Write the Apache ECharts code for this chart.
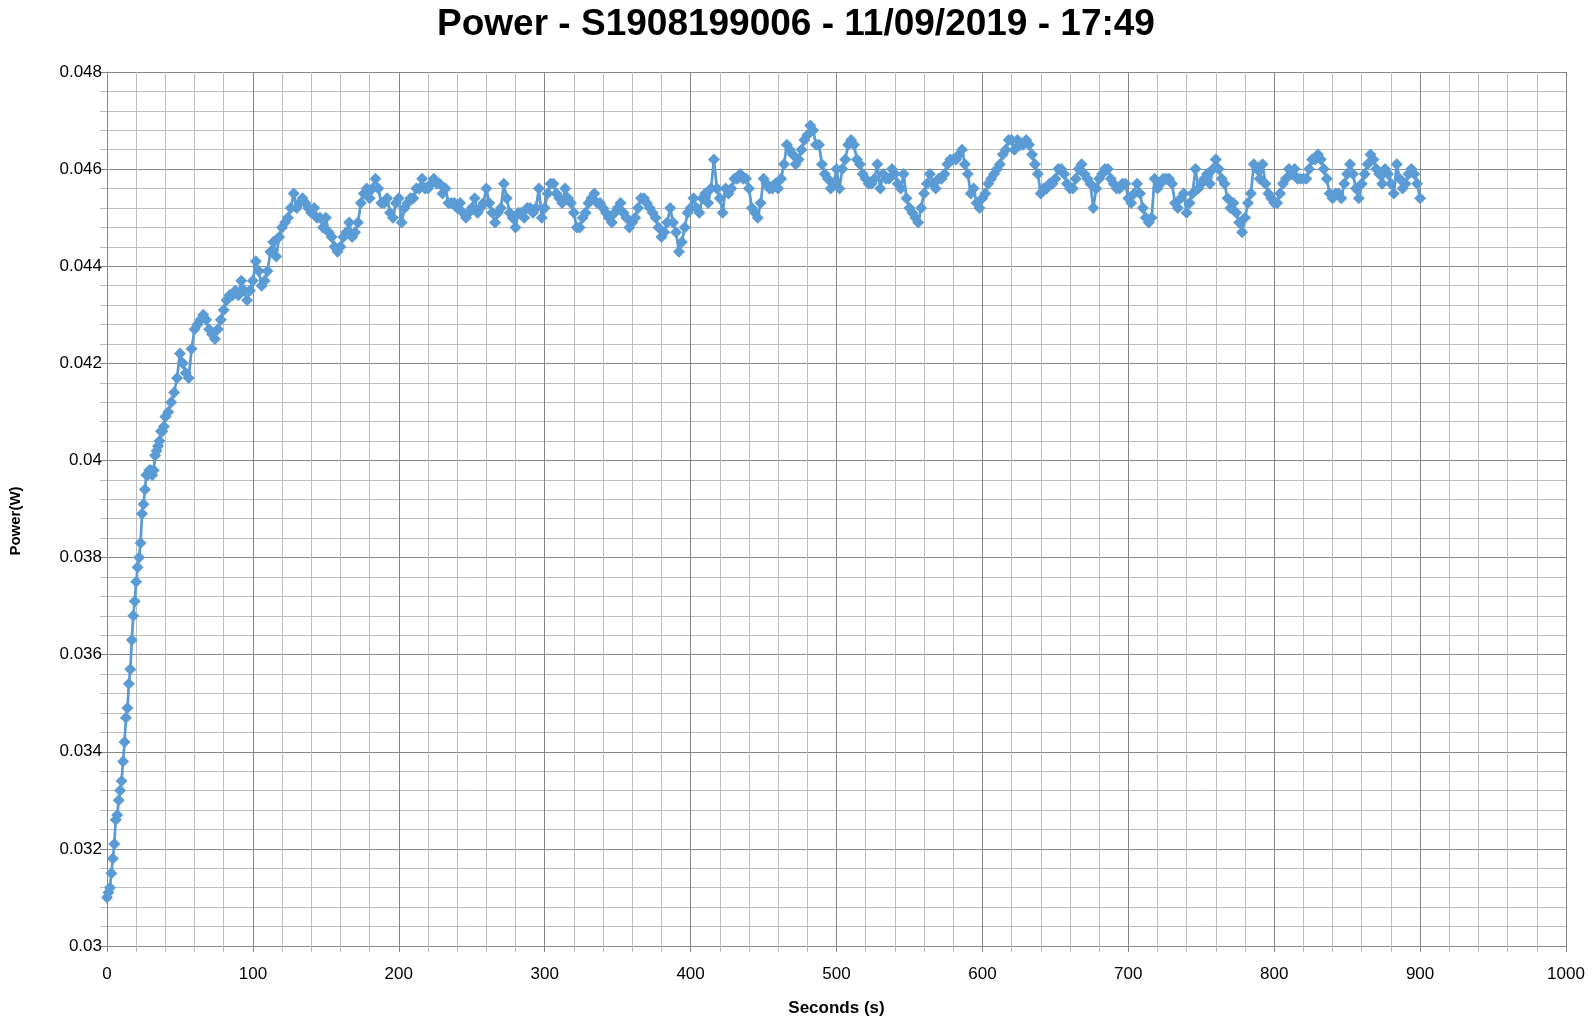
<!DOCTYPE html>
<html>
<head>
<meta charset="utf-8">
<script src="https://cdn.jsdelivr.net/npm/echarts@6/dist/echarts.min.js"></script>
<style>
html,body{margin:0;padding:0;background:#fff;}
#chart{width:1592px;height:1023px;}
</style>
</head>
<body>
<div id="chart"></div>
<script>
// ---- DATA ----
const titleText = 'Power - S1908199006 - 11/09/2019 - 17:49';
const xAxisName = 'Seconds (s)';
const yAxisName = 'Power(W)';
const xTickLabels = ['0','100','200','300','400','500','600','700','800','900','1000'];
const yTickLabels = ['0.03','0.032','0.034','0.036','0.038','0.04','0.042','0.044','0.046','0.048'];

// samples every 1 s from 0 s to 40 s
const earlyStart = 0, earlyStep = 1;
const powerEarly = [
0.0310,0.0311,0.0312,0.0315,0.0318,0.0321,0.0326,0.0327,0.0330,0.0332,
0.0334,0.0338,0.0342,0.0347,0.0349,0.0354,0.0357,0.0363,0.0368,0.0371,
0.0375,0.0378,0.0380,0.0383,0.0389,0.0391,0.0394,0.0397,0.0397,0.0398,
0.0398,0.0397,0.0398,0.0401,0.0402,0.0403,0.0404,0.0406,0.0406,0.0407,
0.0409
];

// samples every 2 s from 42 s to 900 s
const lateStart = 42, lateStep = 2;
const powerLate = [
0.0410,0.0412,0.0414,0.0417,0.0422,0.0420,0.0418,0.0417,0.0423,0.0427,
0.0428,0.0429,0.0430,0.0429,0.0427,0.0426,0.0425,0.0427,0.0429,0.0431,
0.0433,0.0434,0.0434,0.0435,0.0434,0.0437,0.0435,0.0433,0.0435,0.0437,
0.0441,0.0439,0.0436,0.0437,0.0439,0.0443,0.0445,0.0442,0.0446,0.0448,
0.0449,0.0450,0.0452,0.0455,0.0452,0.0453,0.0454,0.0453,0.0452,0.0451,
0.0452,0.0450,0.0450,0.0448,0.0450,0.0447,0.0446,0.0444,0.0443,0.0444,
0.0446,0.0447,0.0449,0.0446,0.0447,0.0449,0.0453,0.0455,0.0456,0.0454,
0.0456,0.0458,0.0456,0.0453,0.0453,0.0454,0.0451,0.0450,0.0453,0.0454,
0.0449,0.0452,0.0453,0.0454,0.0454,0.0456,0.0456,0.0458,0.0456,0.0456,
0.0457,0.0458,0.0457,0.0457,0.0455,0.0456,0.0453,0.0453,0.0453,0.0452,
0.0453,0.0451,0.0450,0.0451,0.0452,0.0454,0.0451,0.0452,0.0453,0.0456,
0.0453,0.0451,0.0449,0.0451,0.0452,0.0457,0.0454,0.0451,0.0450,0.0448,
0.0451,0.0451,0.0450,0.0452,0.0452,0.0451,0.0452,0.0456,0.0450,0.0452,
0.0455,0.0457,0.0457,0.0455,0.0454,0.0453,0.0456,0.0454,0.0453,0.0451,
0.0448,0.0448,0.0450,0.0451,0.0453,0.0454,0.0455,0.0453,0.0453,0.0452,
0.0451,0.0450,0.0449,0.0451,0.0452,0.0453,0.0451,0.0450,0.0448,0.0449,
0.0450,0.0452,0.0454,0.0454,0.0453,0.0452,0.0451,0.0450,0.0448,0.0446,
0.0447,0.0449,0.0452,0.0449,0.0447,0.0443,0.0445,0.0448,0.0451,0.0452,
0.0454,0.0452,0.0451,0.0454,0.0455,0.0453,0.0456,0.0462,0.0456,0.0454,
0.0451,0.0456,0.0455,0.0456,0.0458,0.0458,0.0459,0.0458,0.0458,0.0456,
0.0452,0.0451,0.0450,0.0453,0.0458,0.0457,0.0456,0.0456,0.0457,0.0456,
0.0458,0.0461,0.0465,0.0464,0.0463,0.0461,0.0462,0.0464,0.0466,0.0467,
0.0469,0.0468,0.0465,0.0465,0.0461,0.0459,0.0458,0.0456,0.0457,0.0460,
0.0456,0.0460,0.0462,0.0465,0.0466,0.0465,0.0462,0.0461,0.0459,0.0458,
0.0457,0.0457,0.0458,0.0461,0.0456,0.0459,0.0458,0.0458,0.0460,0.0459,
0.0457,0.0456,0.0459,0.0454,0.0452,0.0451,0.0450,0.0449,0.0452,0.0455,
0.0457,0.0459,0.0457,0.0456,0.0458,0.0458,0.0459,0.0461,0.0462,0.0462,
0.0462,0.0463,0.0464,0.0461,0.0459,0.0455,0.0456,0.0453,0.0452,0.0454,
0.0455,0.0457,0.0458,0.0459,0.0460,0.0461,0.0463,0.0464,0.0466,0.0466,
0.0464,0.0466,0.0465,0.0465,0.0466,0.0465,0.0463,0.0461,0.0459,0.0455,
0.0456,0.0456,0.0457,0.0457,0.0458,0.0460,0.0460,0.0459,0.0457,0.0456,
0.0456,0.0458,0.0460,0.0461,0.0459,0.0458,0.0457,0.0452,0.0456,0.0458,
0.0459,0.0460,0.0460,0.0458,0.0457,0.0456,0.0456,0.0457,0.0457,0.0454,
0.0453,0.0455,0.0457,0.0455,0.0452,0.0450,0.0449,0.0450,0.0458,0.0456,
0.0457,0.0458,0.0458,0.0458,0.0457,0.0453,0.0452,0.0454,0.0455,0.0451,
0.0453,0.0455,0.0460,0.0456,0.0457,0.0458,0.0459,0.0457,0.0460,0.0462,
0.0460,0.0458,0.0457,0.0454,0.0452,0.0453,0.0451,0.0449,0.0447,0.0450,
0.0453,0.0455,0.0461,0.0460,0.0458,0.0461,0.0457,0.0455,0.0454,0.0453,
0.0453,0.0455,0.0457,0.0458,0.0460,0.0459,0.0460,0.0458,0.0458,0.0458,
0.0458,0.0460,0.0462,0.0462,0.0463,0.0462,0.0460,0.0458,0.0455,0.0454,
0.0455,0.0455,0.0454,0.0457,0.0459,0.0461,0.0459,0.0456,0.0454,0.0457,
0.0459,0.0461,0.0463,0.0462,0.0460,0.0459,0.0457,0.0460,0.0459,0.0457,
0.0455,0.0461,0.0458,0.0456,0.0457,0.0459,0.0460,0.0459,0.0457,0.0454
];

// ---- BUILD ----
const points = [];
powerEarly.forEach((v, i) => points.push([earlyStart + i * earlyStep, v]));
powerLate.forEach((v, i) => points.push([lateStart + i * lateStep, v]));

const majorColor = '#868686';
const minorColor = '#bdbdbd';
const blue = '#5B9BD5';
const font = '"Liberation Sans", Arial, sans-serif';

const chart = echarts.init(document.getElementById('chart'), null, {renderer: 'canvas'});
chart.setOption({
  animation: false,
  backgroundColor: '#ffffff',
  title: {
    text: titleText,
    left: 'center',
    top: 1,
    textStyle: {fontFamily: font, fontSize: 37, fontWeight: 'bold', color: '#000'}
  },
  grid: {left: 106, right: 26, top: 72, bottom: 77, containLabel: false},
  xAxis: {
    type: 'value',
    min: 0,
    max: 1000,
    interval: 100,
    name: xAxisName,
    nameLocation: 'middle',
    nameGap: 54,
    nameTextStyle: {fontFamily: font, fontSize: 17, fontWeight: 'bold', color: '#000'},
    axisLine: {show: true, onZero: false, lineStyle: {color: majorColor, width: 1}},
    axisTick: {show: true, length: 6, lineStyle: {color: majorColor}},
    minorTick: {show: true, splitNumber: 5, length: 6, lineStyle: {color: minorColor}},
    axisLabel: {
      fontFamily: font, fontSize: 17, color: '#000', margin: 20,
      formatter: function (v) {
        const idx = Math.round(v / 100);
        return xTickLabels[idx] !== undefined ? xTickLabels[idx] : '';
      }
    },
    splitLine: {show: true, lineStyle: {color: majorColor, width: 1}},
    minorSplitLine: {show: true, lineStyle: {color: minorColor, width: 1}}
  },
  yAxis: {
    type: 'value',
    min: 0.03,
    max: 0.048,
    interval: 0.002,
    name: yAxisName,
    nameLocation: 'middle',
    nameGap: 84,
    nameRotate: 90,
    nameTextStyle: {fontFamily: font, fontSize: 15, fontWeight: 'bold', color: '#000', padding: [0, 24, 0, 0]},
    axisLine: {show: true, lineStyle: {color: majorColor, width: 1}},
    axisTick: {show: true, length: 7, lineStyle: {color: majorColor}},
    minorTick: {show: true, splitNumber: 5, length: 7, lineStyle: {color: minorColor}},
    axisLabel: {
      fontFamily: font, fontSize: 17, color: '#000', margin: 5,
      formatter: function (v) {
        const idx = Math.round((v - 0.03) / 0.002);
        return yTickLabels[idx] !== undefined ? yTickLabels[idx] : '';
      }
    },
    splitLine: {show: true, lineStyle: {color: majorColor, width: 1}},
    minorSplitLine: {show: true, lineStyle: {color: minorColor, width: 1}}
  },
  series: [{
    type: 'line',
    data: points,
    symbol: 'diamond',
    symbolSize: 12,
    showAllSymbol: true,
    lineStyle: {color: blue, width: 2.75},
    itemStyle: {color: blue, borderWidth: 0},
    emphasis: {disabled: true}
  }]
});
</script>
</body>
</html>
